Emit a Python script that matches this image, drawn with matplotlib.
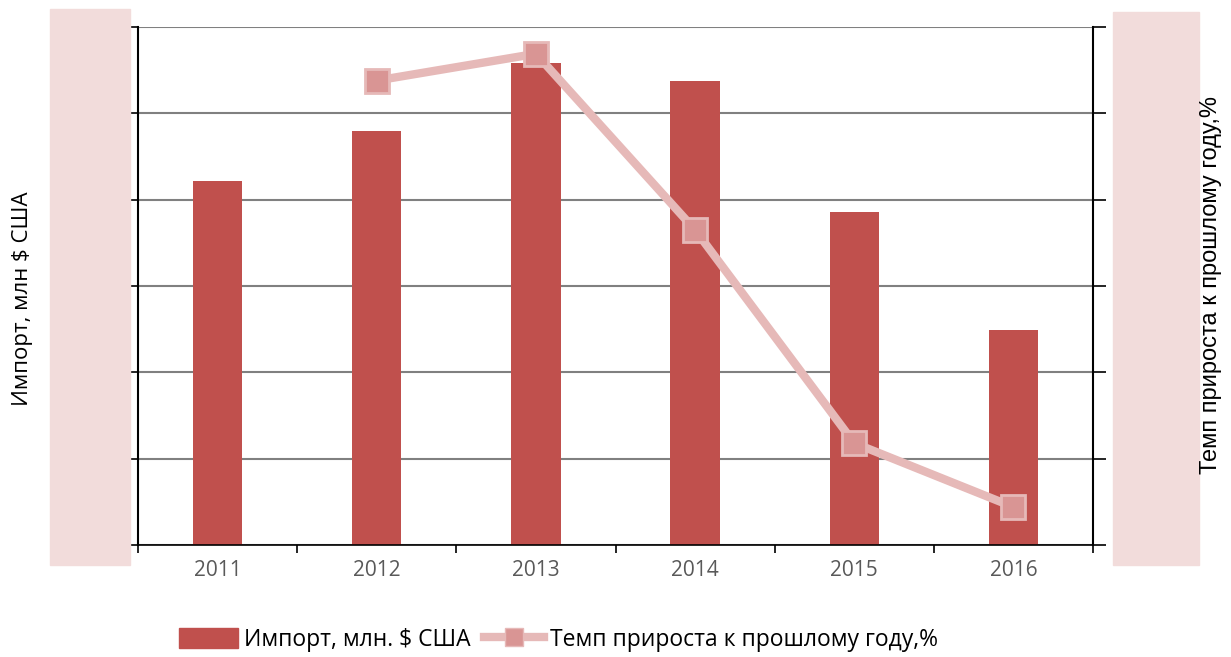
import numpy as np
import matplotlib.pyplot as plt
from matplotlib.patches import Rectangle, Patch
from matplotlib.lines import Line2D

years = ['2011', '2012', '2013', '2014', '2015', '2016']
imports = [84.4, 96.0, 111.6, 107.6, 77.2, 49.8]
growth_years = ['2012', '2013', '2014', '2015', '2016']
growth = [13.8, 16.9, -3.5, -28.2, -35.6]

bar_color = '#C0504D'
line_color = '#E6B9B8'
marker_face = '#D99594'
pink = '#F2DCDB'
fonts = ['Open Sans', 'DejaVu Sans']

fig = plt.figure(figsize=(12.31, 6.57), dpi=100)
ax = fig.add_axes([0.1121, 0.1705, 0.7758, 0.7884])
x = np.arange(len(years))
ax.bar(x, imports, width=0.31, color=bar_color, zorder=2)
ax.set_xlim(-0.5, len(years) - 0.5)
ax.set_ylim(0, 120)
ax.set_yticks(np.arange(0, 121, 20))
ax.set_yticklabels([])
ax.grid(axis='y', color='#808080', linewidth=1.5, zorder=0)
ax.set_xticks(x)
ax.set_xticklabels(years, color='#595959', fontsize=15, family=fonts)
ax.tick_params(axis='x', length=0, pad=11)
ax.set_xticks(np.arange(-0.5, len(years), 1), minor=True)
ax.tick_params(axis='x', which='minor', length=6, width=1.2, color='black')
ax.tick_params(axis='y', length=8, width=1.2, color='black')
ax.spines['top'].set_visible(False)
ax.spines['right'].set_visible(False)
ax.spines['left'].set_linewidth(1.5)
ax.spines['bottom'].set_linewidth(1.2)

ax2 = ax.twinx()
gx = [years.index(y) for y in growth_years]
ax2.plot(gx, growth, color=line_color, linewidth=6, marker='s', markersize=17,
         markerfacecolor=marker_face, markeredgecolor=line_color, markeredgewidth=2, zorder=3)
ax2.set_ylim(-40, 20)
ax2.set_yticks(np.arange(-40, 21, 10))
ax2.set_yticklabels([])
ax2.tick_params(axis='y', length=9, width=1.2, color='black')
ax2.spines['right'].set_linewidth(1.5)
for s in ['top', 'left', 'bottom']:
    ax2.spines[s].set_visible(False)

# pink boxes over the value labels of both axes
fig.patches.append(Rectangle((50 / 1231, 1 - 565 / 657), 80 / 1231, 556 / 657,
                             transform=fig.transFigure, color=pink, zorder=0))
fig.patches.append(Rectangle((1113 / 1231, 1 - 565 / 657), 86 / 1231, 553 / 657,
                             transform=fig.transFigure, color=pink, zorder=0))

fig.text(23 / 1231, 1 - 299 / 657, 'Импорт, млн $ США', rotation=90, va='center', ha='center',
         fontsize=16, family=fonts)
fig.text(1211 / 1231, 1 - 285 / 657, 'Темп прироста к прошлому году,%', rotation=90,
         va='center', ha='center', fontsize=17, family=['Liberation Sans', 'DejaVu Sans'])

handles = [Patch(color=bar_color),
           Line2D([], [], color=line_color, linewidth=6, marker='s', markersize=13,
                  markerfacecolor=marker_face, markeredgecolor=line_color)]
fig.legend(handles, ['Импорт, млн. $ США', 'Темп прироста к прошлому году,%'],
           loc='center', bbox_to_anchor=(558 / 1231, 1 - 640 / 657), ncol=2, frameon=False,
           prop={'family': fonts, 'size': 16.5},
           handlelength=2.6, handleheight=1.0, columnspacing=0.6, handletextpad=0.25)

fig.savefig('out.png', dpi=100)
